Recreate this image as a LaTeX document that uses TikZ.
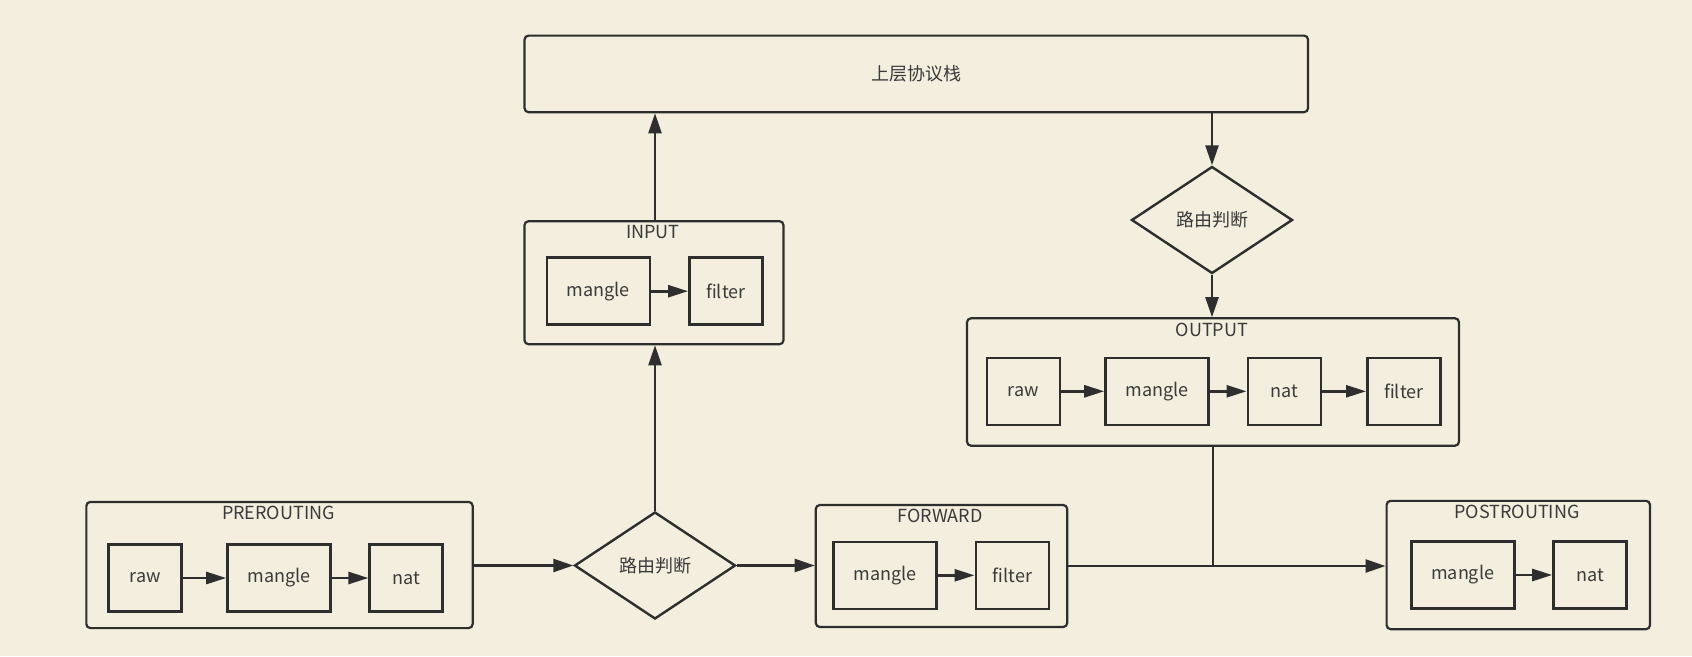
\documentclass[tikz,border=0pt]{standalone}
\usepackage{fontspec}
\newfontfamily\cjk{Noto Sans CJK SC}
\usetikzlibrary{arrows.meta,shapes.geometric}
\definecolor{bg}{HTML}{F3EEDE}
\definecolor{ln}{HTML}{2E2E2E}
\definecolor{tx}{HTML}{3A3A3A}
\begin{document}
\begin{tikzpicture}[x=1pt,y=-1pt,
  every node/.style={font=\cjk\fontsize{18}{21}\selectfont, text=tx, inner sep=0pt},
  cont/.style={draw=ln, line width=2.2pt, rounded corners=4pt},
  ibox/.style={draw=ln, line width=2.6pt, minimum height=67pt},
  sbox/.style={ibox, minimum width=73pt},
  mbox/.style={ibox, minimum width=103pt},
  dia/.style={draw=ln, line width=2.4pt, diamond, minimum width=161pt, minimum height=107pt},
  arr/.style={draw=ln, line width=2.4pt, -{Triangle[length=20pt,width=13pt]}},
  iarr/.style={draw=ln, line width=2.6pt, -{Triangle[length=20pt,width=12pt]}},
  ttl/.style={}
]
\fill[bg] (0,0) rectangle (1692,656);
\useasboundingbox (0,0) rectangle (1692,656);

% top box
\node[cont, minimum width=783.5pt, minimum height=76.6pt] (top) at (916.3,73.9) {上层协议栈};

% INPUT
\node[cont, minimum width=259pt, minimum height=123pt] (in) at (654,282.7) {};
\node[ttl] (inT) at (653,232) {INPUT};
\node[mbox] (inM) at (598.3,291.2) {mangle};
\node[sbox] (inF) at (725.8,291.2) {filter};

% diamond 2
\node[dia] (d2) at (1212,220) {路由判断};

% OUTPUT
\node[cont, minimum width=492pt, minimum height=127.4pt] (out) at (1213,382) {};
\node[ttl] (outT) at (1212,330) {OUTPUT};
\node[sbox] (outR) at (1023.3,391.3) {raw};
\node[mbox] (outM) at (1157,391.3) {mangle};
\node[sbox] (outN) at (1284.3,391.3) {nat};
\node[sbox] (outF) at (1403.8,391.3) {filter};

% PREROUTING
\node[cont, minimum width=386.3pt, minimum height=126.2pt] (pre) at (279.5,565) {};
\node[ttl] (preT) at (278.4,513) {PREROUTING};
\node[sbox] (preR) at (145.2,578) {raw};
\node[mbox] (preM) at (279,578) {mangle};
\node[sbox] (preN) at (406.2,578) {nat};

% diamond 1
\node[dia] (d1) at (655,565.5) {路由判断};

% FORWARD
\node[cont, minimum width=251.4pt, minimum height=122pt] (fwd) at (941.5,566) {};
\node[ttl] (fwdT) at (940,516) {FORWARD};
\node[mbox] (fwdM) at (885,575.3) {mangle};
\node[sbox] (fwdF) at (1012.3,575.3) {filter};

% POSTROUTING
\node[cont, minimum width=263.4pt, minimum height=128.3pt] (post) at (1518.3,565) {};
\node[ttl] (postT) at (1517,512) {POSTROUTING};
\node[mbox] (postM) at (1462.7,575) {mangle};
\node[sbox] (postN) at (1590,575) {nat};

\coordinate (j) at (out.south |- fwd.east);

% inner arrows
\draw[iarr] (inM) -- (inF);
\draw[iarr] (outR) -- (outM);
\draw[iarr] (outM) -- (outN);
\draw[iarr] (outN) -- (outF);
\draw[iarr] (preR) -- (preM);
\draw[iarr] (preM) -- (preN);
\draw[iarr] (fwdM) -- (fwdF);
\draw[iarr] (postM) -- (postN);

% main connectors
\draw[arr] (pre.east |- d1.west) -- (d1.west);
\draw[arr] (d1.east) -- (fwd.west |- d1.east);
\draw[arr] (fwd.east) -- (post.west |- fwd.east);
\draw[draw=ln, line width=2.4pt] (out.south) -- (j);
\draw[arr] (d1.north) -- (d1.north |- in.south);
\draw[arr] (in.north -| d1.north) -- (d1.north |- top.south);
\draw[arr] (top.south -| d2.north) -- (d2.north);
\draw[arr] (d2.south) -- (d2.south |- out.north);
\end{tikzpicture}
\end{document}
